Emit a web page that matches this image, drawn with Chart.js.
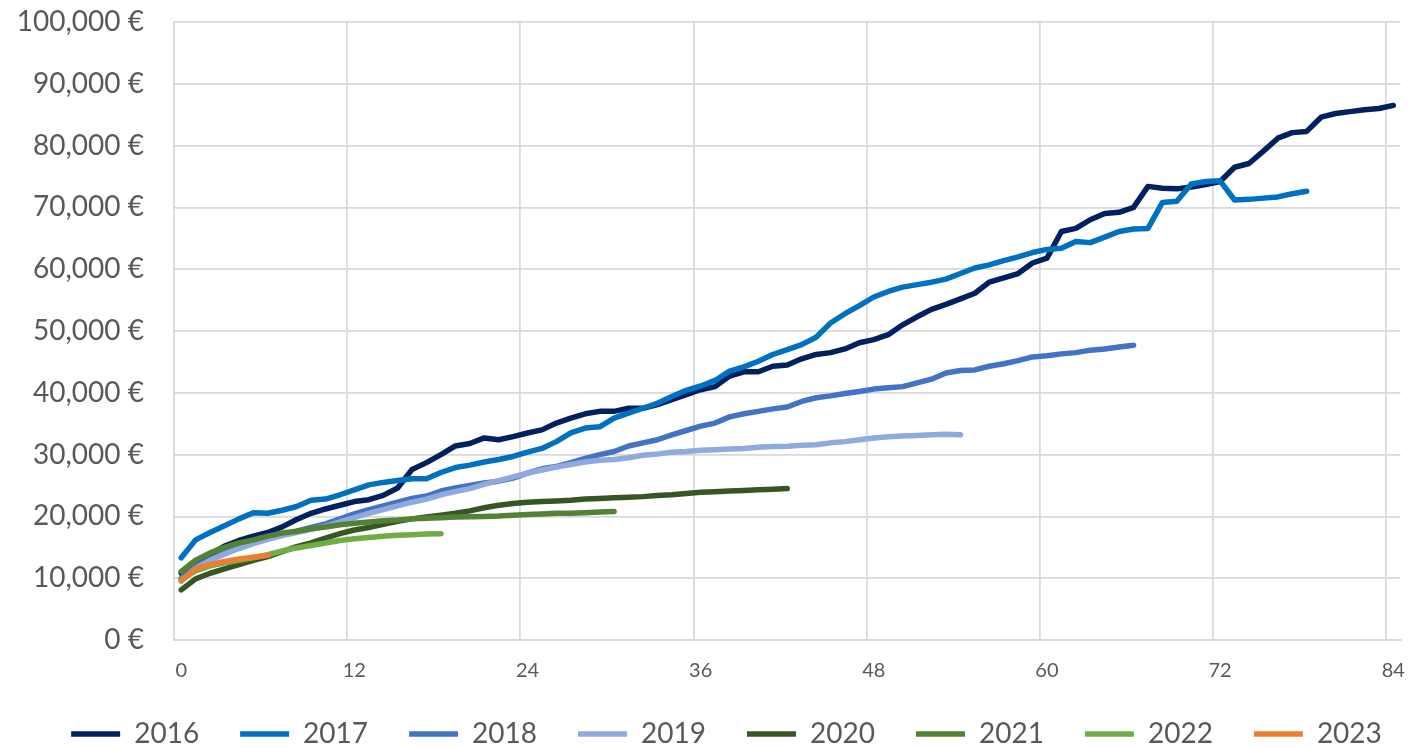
<!DOCTYPE html>
<html>
<head>
<meta charset="utf-8">
<script src="https://cdn.jsdelivr.net/npm/chart.js@4.4.0/dist/chart.umd.min.js"></script>
<style>
  html, body { margin: 0; padding: 0; background: #ffffff; }
  #wrap { width: 1424px; height: 748px; position: relative; }
</style>
</head>
<body>
<div id="wrap"><canvas id="c" width="1424" height="748"></canvas></div>
<script>
// ---- data (months since start, cumulative value in €) ----
const months = [];
for (let m = 0; m <= 84; m++) months.push(String(m));
const xTickLabels = ['0', '12', '24', '36', '48', '60', '72', '84'];
const seriesNames = ['2016', '2017', '2018', '2019', '2020', '2021', '2022', '2023'];

const v2016 = [10800,12600,13900,15200,16100,16800,17400,18300,19500,20500,21200,21800,22400,22700,23400,24600,27600,28700,30000,31400,31800,32700,32400,32900,33500,34000,35100,35900,36600,37000,37000,37500,37500,38100,38900,39700,40500,41000,42700,43400,43400,44300,44500,45500,46200,46500,47100,48100,48600,49400,51000,52300,53500,54300,55200,56100,57900,58600,59300,61000,61800,66100,66600,68000,69000,69200,70000,73400,73100,73000,73300,73700,74200,76500,77100,79100,81200,82100,82300,84600,85200,85500,85800,86000,86500];
const v2017 = [13300,16200,17400,18500,19600,20600,20500,21000,21600,22600,22800,23500,24300,25100,25500,25800,26100,26100,27100,27900,28300,28800,29200,29700,30400,31000,32100,33500,34300,34500,35900,36700,37500,38300,39400,40400,41100,42000,43500,44200,45100,46200,47000,47800,49000,51300,52800,54100,55500,56400,57100,57500,57900,58400,59300,60200,60700,61400,62000,62700,63200,63400,64500,64300,65200,66100,66500,66600,70800,71000,73800,74200,74300,71200,71300,71500,71700,72200,72600];
const v2018 = [10000,11900,13100,14100,15000,15800,16500,17100,17600,18200,18800,19600,20400,21100,21700,22300,22900,23300,24100,24600,25000,25400,25700,26200,27000,27700,28100,28700,29400,30000,30500,31400,31900,32400,33200,33900,34600,35100,36100,36600,37000,37400,37700,38600,39200,39500,39900,40200,40600,40800,41000,41600,42200,43200,43600,43700,44300,44700,45200,45800,46000,46300,46500,46900,47100,47400,47700];
const v2019 = [9500,11600,12900,13900,14800,15600,16300,16900,17400,17900,18400,19100,19800,20500,21100,21700,22300,22800,23500,24000,24500,25200,25800,26400,27000,27500,28000,28400,28800,29100,29200,29500,29900,30100,30400,30500,30700,30800,30900,31000,31200,31300,31350,31500,31600,31900,32100,32400,32700,32900,33000,33100,33200,33300,33200];
const v2020 = [8100,9900,10800,11500,12200,12900,13500,14300,15100,15700,16500,17200,17800,18200,18700,19200,19600,19900,20200,20500,20900,21400,21800,22100,22300,22400,22500,22600,22800,22900,23000,23100,23200,23400,23500,23700,23900,24000,24100,24200,24300,24400,24500];
const v2021 = [11100,12900,14100,15000,15700,16200,16800,17300,17600,18000,18300,18650,18900,19100,19300,19400,19600,19700,19800,19900,19950,20000,20050,20200,20300,20400,20500,20500,20600,20700,20800];
const v2022 = [9800,11200,12000,12500,12900,13300,13800,14400,14900,15300,15700,16100,16400,16600,16800,16950,17050,17150,17200];
const v2023 = [9600,11500,12200,12700,13100,13400,13700];

const seriesValues = [v2016, v2017, v2018, v2019, v2020, v2021, v2022, v2023];
const seriesColors = ['#002060', '#0070C0', '#4472C4', '#8FAADC', '#375623', '#548235', '#70AD47', '#ED7D31'];

function euro(v) {
  const s = String(Math.round(v)).replace(/\B(?=(\d{3})+(?!\d))/g, ',');
  return s + ' €';
}

const datasets = seriesNames.map((name, k) => ({
  label: name,
  data: seriesValues[k],
  borderColor: seriesColors[k],
  backgroundColor: seriesColors[k],
  borderWidth: 5.5,
  borderCapStyle: 'round',
  borderJoinStyle: 'round',
  pointRadius: 0,
  pointHoverRadius: 0,
  tension: 0,
  fill: false,
  order: seriesNames.length - k,
  yAxisID: 'y'
}));

const gridGray = '#d9d9d9';
const textGray = '#595959';

new Chart(document.getElementById('c'), {
  type: 'line',
  data: { labels: months, datasets: datasets },
  options: {
    responsive: false,
    animation: false,
    devicePixelRatio: 1,
    layout: { padding: { top: 22, left: 12, right: -17, bottom: 0 } },
    plugins: {
      tooltip: { enabled: false },
      legend: {
        position: 'bottom',
        align: 'center',
        maxHeight: 69,
        labels: {
          sort: (a, b) => a.datasetIndex - b.datasetIndex,
          usePointStyle: true,
          pointStyle: 'line',
          pointStyleWidth: 49,
          boxHeight: 5,
          padding: 41,
          color: textGray,
          font: { family: 'Lato', size: 28 }
        }
      }
    },
    scales: {
      x: {
        type: 'category',
        offset: true,
        grid: {
          offset: true,
          drawTicks: false,
          lineWidth: 1.75,
          color: (ctx) => (ctx.index !== undefined && ctx.index % 12 === 0) ? gridGray : 'rgba(0,0,0,0)'
        },
        border: { display: true, color: gridGray, width: 1.75 },
        ticks: {
          autoSkip: false,
          maxRotation: 0,
          minRotation: 0,
          padding: 19,
          color: textGray,
          font: { family: 'Lato', size: 20 },
          callback: function (value, index) {
            const lab = months[index];
            return xTickLabels.includes(lab) ? lab : '';
          }
        },
        afterFit: (s) => { s.height = 39; }
      },
      y: {
        type: 'linear',
        position: 'left',
        min: 0,
        max: 100000,
        grid: { drawTicks: false, color: gridGray, lineWidth: 1.75 },
        border: { display: false },
        ticks: {
          stepSize: 10000,
          padding: 30,
          color: textGray,
          font: { family: 'Lato', size: 28 },
          callback: (v) => euro(v)
        },
        afterFit: (s) => { s.width = 162; s.paddingTop = 0; s.paddingBottom = 0; }
      },
      yRight: {
        type: 'linear',
        position: 'right',
        display: true,
        grid: { display: false, drawTicks: false },
        border: { display: false },
        ticks: { display: false },
        afterFit: (s) => { s.width = 39; s.paddingTop = 0; s.paddingBottom = 0; }
      }
    }
  }
});
</script>
</body>
</html>
